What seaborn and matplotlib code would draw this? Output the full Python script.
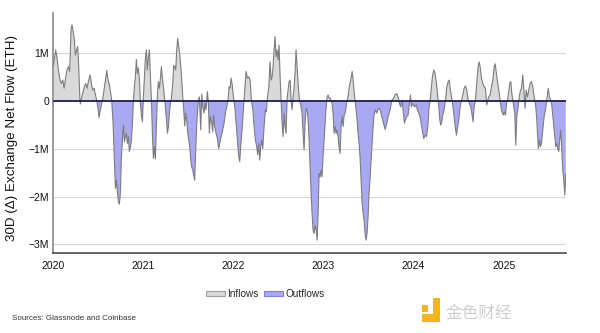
import numpy as np
import pandas as pd
import matplotlib
matplotlib.use("Agg")
import matplotlib.pyplot as plt
from matplotlib import font_manager
from matplotlib.patches import Patch, Rectangle
import seaborn as sns

# 30-day net exchange flow of ETH, in millions, keyed by decimal year
decimal_year = [
    2020.000, 2020.011, 2020.026, 2020.041, 2020.056, 2020.074, 2020.089, 2020.104,
    2020.119, 2020.137, 2020.152, 2020.167, 2020.181, 2020.196, 2020.207, 2020.222,
    2020.233, 2020.244, 2020.259, 2020.270, 2020.281, 2020.293, 2020.300, 2020.315,
    2020.330, 2020.344, 2020.359, 2020.374, 2020.389, 2020.407, 2020.422, 2020.437,
    2020.452, 2020.467, 2020.481, 2020.493, 2020.507, 2020.522, 2020.537, 2020.552,
    2020.567, 2020.581, 2020.593, 2020.607, 2020.622, 2020.637, 2020.648, 2020.663,
    2020.678, 2020.689, 2020.700, 2020.711, 2020.722, 2020.733, 2020.744, 2020.756,
    2020.767, 2020.778, 2020.789, 2020.800, 2020.811, 2020.822, 2020.833, 2020.844,
    2020.856, 2020.867, 2020.878, 2020.889, 2020.900, 2020.911, 2020.922, 2020.933,
    2020.944, 2020.956, 2020.967, 2020.978, 2020.989, 2021.000, 2021.011, 2021.022,
    2021.033, 2021.044, 2021.056, 2021.067, 2021.078, 2021.089, 2021.100, 2021.111,
    2021.122, 2021.133, 2021.144, 2021.156, 2021.167, 2021.178, 2021.189, 2021.200,
    2021.211, 2021.222, 2021.233, 2021.244, 2021.256, 2021.267, 2021.278, 2021.289,
    2021.300, 2021.311, 2021.326, 2021.337, 2021.348, 2021.359, 2021.370, 2021.381,
    2021.393, 2021.404, 2021.415, 2021.426, 2021.437, 2021.448, 2021.459, 2021.470,
    2021.481, 2021.493, 2021.504, 2021.515, 2021.526, 2021.537, 2021.548, 2021.559,
    2021.570, 2021.581, 2021.593,
    2021.611, 2021.622, 2021.637, 2021.648, 2021.659, 2021.674, 2021.685, 2021.696,
    2021.711, 2021.722, 2021.733, 2021.744, 2021.759, 2021.770, 2021.781, 2021.793,
    2021.807, 2021.822, 2021.837, 2021.852, 2021.867, 2021.881, 2021.896, 2021.911,
    2021.926, 2021.941, 2021.952, 2021.963, 2021.974, 2021.985, 2022.000, 2022.015,
    2022.030, 2022.044, 2022.059, 2022.070, 2022.081, 2022.096, 2022.111, 2022.126,
    2022.141, 2022.156, 2022.170, 2022.185, 2022.200, 2022.215, 2022.230, 2022.244,
    2022.259, 2022.270, 2022.281, 2022.293, 2022.304, 2022.315, 2022.326, 2022.341,
    2022.356, 2022.367, 2022.378, 2022.393, 2022.407, 2022.419, 2022.430, 2022.441,
    2022.452, 2022.463, 2022.474, 2022.485, 2022.496, 2022.507, 2022.519, 2022.530,
    2022.541, 2022.552, 2022.563, 2022.574, 2022.585, 2022.596, 2022.607, 2022.619,
    2022.630, 2022.641, 2022.652, 2022.663, 2022.674, 2022.685, 2022.696, 2022.707,
    2022.719, 2022.730, 2022.741, 2022.752, 2022.763, 2022.774, 2022.785, 2022.796,
    2022.807, 2022.819, 2022.830, 2022.841, 2022.852, 2022.863, 2022.874, 2022.885,
    2022.896, 2022.907, 2022.919, 2022.930, 2022.941, 2022.952, 2022.963, 2022.974,
    2022.985, 2022.996, 2023.007, 2023.019, 2023.030, 2023.041, 2023.052, 2023.063,
    2023.074, 2023.085, 2023.096, 2023.107, 2023.119, 2023.130, 2023.141, 2023.152,
    2023.163, 2023.174, 2023.185, 2023.196, 2023.207, 2023.219, 2023.230, 2023.241,
    2023.252, 2023.263, 2023.274, 2023.285, 2023.296, 2023.307, 2023.319, 2023.330,
    2023.341, 2023.352, 2023.363, 2023.374, 2023.385, 2023.396, 2023.407, 2023.419,
    2023.430, 2023.441, 2023.452, 2023.463, 2023.474, 2023.485, 2023.496, 2023.507,
    2023.519, 2023.530, 2023.541, 2023.552, 2023.563, 2023.574, 2023.593, 2023.611,
    2023.630,
    2023.648, 2023.667, 2023.686, 2023.704, 2023.723, 2023.741, 2023.760, 2023.778,
    2023.797, 2023.815, 2023.834, 2023.845, 2023.860, 2023.874, 2023.889, 2023.900,
    2023.911, 2023.926, 2023.941, 2023.956, 2023.967, 2023.978, 2023.989, 2024.000,
    2024.015, 2024.030, 2024.045, 2024.060, 2024.074, 2024.089, 2024.104, 2024.115,
    2024.130, 2024.145, 2024.160, 2024.174, 2024.186, 2024.197, 2024.211, 2024.226,
    2024.241, 2024.256, 2024.271, 2024.282, 2024.293, 2024.304, 2024.315, 2024.326,
    2024.341, 2024.356, 2024.371, 2024.386, 2024.397, 2024.408, 2024.423, 2024.437,
    2024.452, 2024.467, 2024.478, 2024.489, 2024.504, 2024.519, 2024.534, 2024.549,
    2024.563, 2024.578, 2024.593, 2024.608, 2024.623, 2024.637, 2024.652, 2024.663,
    2024.674, 2024.689, 2024.704, 2024.719, 2024.730, 2024.741, 2024.756, 2024.771,
    2024.786, 2024.800, 2024.815, 2024.826, 2024.837, 2024.852, 2024.867, 2024.882,
    2024.897, 2024.908, 2024.919, 2024.934, 2024.949, 2024.963, 2024.978, 2024.989,
    2025.000, 2025.011, 2025.023, 2025.034, 2025.045, 2025.056, 2025.071, 2025.082,
    2025.093, 2025.104, 2025.115, 2025.126, 2025.137, 2025.149, 2025.160, 2025.171,
    2025.186, 2025.200, 2025.215, 2025.230, 2025.241, 2025.252, 2025.267, 2025.282,
    2025.297, 2025.311, 2025.326, 2025.341, 2025.356, 2025.371, 2025.378, 2025.389,
    2025.400, 2025.411, 2025.423, 2025.437, 2025.452, 2025.467, 2025.482, 2025.497,
    2025.511, 2025.526, 2025.537, 2025.549, 2025.560, 2025.571, 2025.582, 2025.593,
    2025.604, 2025.615, 2025.626, 2025.637, 2025.649, 2025.660, 2025.671, 2025.682,
    2025.693,
]

net_flow_m = [
    0.74, 0.88, 1.06, 0.88, 0.64, 0.43, 0.36, 0.43,
    0.26, 0.50, 0.64, 0.71, 0.61, 1.48, 1.58, 1.41,
    1.27, 0.95, 1.06, 1.13, 0.71, 0.08, -0.07, 0.08,
    0.19, 0.29, 0.36, 0.26, 0.40, 0.54, 0.36, 0.22,
    0.26, 0.12, 0.01, -0.13, -0.35, -0.19, -0.06, 0.08,
    0.29, 0.47, 0.63, 0.43, 0.33, 0.15, 0.00, -0.47,
    -1.24, -1.83, -1.66, -1.90, -2.11, -2.16, -1.93, -1.17,
    -0.82, -0.51, -0.86, -0.75, -0.68, -0.89, -0.75, -1.06,
    -0.96, -0.82, -0.47, 0.01, 0.29, 0.50, 0.86, 0.57,
    0.68, 0.43, -0.06, -0.30, -0.44, 0.08, 0.50, 0.88,
    1.06, 0.64, 0.92, 1.06, 0.50, 0.01, -0.68, -1.20,
    -0.96, -1.22, -0.54, 0.15, 0.40, 0.26, 0.47, 0.71,
    0.47, 0.29, 0.08, -0.13, -0.40, -0.68, -0.54, -0.26,
    -0.06, 0.05, 0.36, 0.74, 0.71, 0.64, 1.06, 1.30,
    1.13, 0.95, 0.71, 0.43, 0.08, -0.19, -0.53, -0.26,
    -0.40, -0.68, -0.82, -0.96, -1.24, -1.38, -1.45, -1.55,
    -1.66, -1.03, -0.47,
    0.01, 0.08, -0.61, 0.14, -0.13, -0.26, -0.06, -0.19,
    0.19, -0.06, -0.68, -0.33, -0.47, -0.65, -0.30, -0.54,
    -0.68, -0.79, -1.00, -0.86, -0.72, -0.61, -0.47, -0.26,
    -0.13, 0.01, 0.29, 0.26, 0.47, 0.36, 0.08, -0.13,
    -0.47, -0.82, -1.17, -1.27, -0.96, -0.61, -0.19, 0.22,
    0.61, 0.47, 0.50, 0.43, 0.01, -0.19, -0.54, -0.82,
    -0.96, -1.13, -0.89, -1.24, -0.96, -0.82, -1.00, -0.54,
    -0.19, -0.23, 0.08, 0.26, 0.81, 0.43, 0.50, 0.71,
    1.06, 1.34, 0.92, 1.06, 0.85, 1.16, 0.50, 0.01,
    -0.47, -0.75, -0.26, -0.54, -0.68, 0.01, 0.22, 0.40,
    0.43, 0.01, -0.19, 0.08, 0.26, 0.57, 1.06, 0.71,
    0.36, 0.08, -0.02, -0.13, -0.26, -0.68, -1.03, -0.47,
    -0.16, -0.19, -0.40, -0.82, -1.38, -1.93, -2.35, -2.70,
    -2.77, -2.60, -2.70, -2.91, -2.35, -1.52, -1.59, -1.45,
    -1.59, -1.17, -0.82, -0.47, -0.13, 0.08, 0.12, 0.05,
    0.06, 0.01, -0.06, -0.26, -0.68, -0.54, -0.68, -0.61,
    -0.75, -0.96, -1.10, -0.54, -0.33, -0.54, -0.30, -0.26,
    -0.13, 0.01, 0.08, 0.26, 0.36, 0.47, 0.61, 0.43,
    0.19, 0.01, -0.19, -0.40, -0.68, -0.89, -1.17, -1.66,
    -2.14, -2.35, -2.49, -2.77, -2.91, -2.77, -2.42, -1.93,
    -1.59, -1.24, -0.89, -0.54, -0.30, -0.19, -0.26, -0.16,
    -0.19,
    -0.33, -0.47, -0.60, -0.47, -0.30, -0.19, 0.01, 0.05,
    0.12, 0.15, 0.05, -0.06, -0.13, 0.01, -0.26, -0.47,
    -0.40, -0.33, -0.30, -0.06, 0.12, -0.13, -0.06, -0.09,
    -0.13, -0.09, -0.19, -0.26, -0.33, -0.51, -0.68, -0.79,
    -0.72, -0.75, -0.54, -0.13, 0.01, 0.22, 0.50, 0.64,
    0.57, 0.36, 0.08, -0.13, -0.40, -0.51, -0.44, -0.30,
    -0.19, 0.01, 0.29, 0.40, 0.43, 0.26, 0.08, -0.09,
    -0.33, -0.58, -0.72, -0.58, -0.40, -0.13, 0.01, 0.12,
    0.26, 0.31, 0.22, 0.01, -0.06, -0.13, -0.30, -0.44,
    -0.13, 0.01, 0.36, 0.71, 0.81, 0.71, 0.47, 0.36,
    0.29, 0.26, -0.09, 0.01, 0.08, 0.12, 0.29, 0.43,
    0.71, 0.77, 0.61, 0.40, 0.22, 0.01, -0.19, -0.26,
    -0.30, -0.23, -0.30, -0.06, 0.01, 0.15, 0.36, 0.40,
    0.15, 0.01, -0.13, -0.26, -0.93, -0.33, -0.19, 0.01,
    0.19, 0.26, 0.54, 0.15, -0.16, 0.22, 0.08, 0.22,
    0.36, 0.40, 0.29, 0.08, -0.06, -0.40, -0.68, -1.00,
    -0.82, -0.96, -0.89, -0.61, -0.33, -0.19, 0.01, 0.26,
    0.08, 0.01, -0.09, -0.33, -0.54, -0.75, -0.96, -0.89,
    -1.00, -1.06, -0.82, -0.61, -1.03, -1.45, -1.66, -1.97,
    -1.52,
]

year_ticks = [2020, 2021, 2022, 2023, 2024, 2025]
y_ticks = [1, 0, -1, -2, -3]
y_tick_labels = ["1M", "0", "\u22121M", "\u22122M", "\u22123M"]
y_title = "30D (\u0394) Exchange Net Flow (ETH)"
legend_labels = ["Inflows", "Outflows"]
source_note = "Sources: Glassnode and Coinbase"
brand_mark = "金色财经"

# colours
inflow_fill = "#d9d9d9"
outflow_fill = "#a9a9f3"
trace_color = "#7d7d7d"
zero_color = "#1c1f4d"

sns.set_theme(style="white")
available = {f.name for f in font_manager.fontManager.ttflist}
base_font = "Liberation Sans Narrow" if "Liberation Sans Narrow" in available else "Liberation Sans"
plt.rcParams["font.family"] = [base_font, "DejaVu Sans"]

x = np.asarray(decimal_year)
dates = pd.Timestamp("2020-01-01") + pd.to_timedelta((x - 2020.0) * 365.25, unit="D")
df = pd.DataFrame({"date": dates, "flow": net_flow_m})

fig = plt.figure(figsize=(6.0, 3.33), dpi=100)
ax = fig.add_axes([0.089, 0.240, 0.854, 0.721])

flow = df["flow"].to_numpy()
ax.fill_between(df["date"], flow, 0, where=flow >= 0, interpolate=True,
                color=inflow_fill, linewidth=0, zorder=1)
ax.fill_between(df["date"], flow, 0, where=flow <= 0, interpolate=True,
                color=outflow_fill, linewidth=0, zorder=1)
sns.lineplot(data=df, x="date", y="flow", ax=ax, color=trace_color,
             linewidth=0.8, zorder=3)
ax.axhline(0, color=zero_color, linewidth=1.3, zorder=4)

ax.set_xlim(pd.Timestamp("2020-01-01"), df["date"].iloc[-1])
ax.set_ylim(-3.18, 1.83)

ax.set_yticks(y_ticks)
ax.set_yticklabels(y_tick_labels)
ax.set_xticks([pd.Timestamp(f"{y}-01-01") for y in year_ticks])
ax.set_xticklabels([str(y) for y in year_ticks])
ax.tick_params(axis="both", length=0, labelsize=7.5, colors="#111111")
ax.tick_params(axis="y", pad=3)
ax.tick_params(axis="x", pad=6)

ax.yaxis.grid(True, color="#d6d6d6", linewidth=0.8)
ax.xaxis.grid(False)
ax.set_axisbelow(True)
ax.set_xlabel("")
ax.set_ylabel("")

for side in ("top", "right"):
    ax.spines[side].set_visible(False)
ax.spines["left"].set_color("#9a9a9a")
ax.spines["left"].set_linewidth(1.4)
ax.spines["bottom"].set_color("#4a4a4a")
ax.spines["bottom"].set_linewidth(1.2)

fig.text(12 / 600, 1 - 138 / 333, y_title, rotation=90, ha="center", va="center",
         fontsize=9.6, color="#111111")

handles = [
    Patch(facecolor=inflow_fill, edgecolor="#a0a0a0", linewidth=0.8),
    Patch(facecolor=outflow_fill, edgecolor="#8080e0", linewidth=0.8),
]
fig.legend(handles, legend_labels, loc="center", bbox_to_anchor=(0.442, 0.117),
           ncol=2, frameon=False, fontsize=7.2, handlelength=1.85, handleheight=0.35,
           handletextpad=0.25, columnspacing=0.6)

fig.text(12 / 600, 1 - 318 / 333, source_note, ha="left", va="center",
         fontsize=5.8, color="#333333")

# brand logo blocks and wordmark
logo_color = "#f3b519"
for (x0, y0, w, h) in [(422, 305, 6, 7), (433, 298, 7, 24), (422, 314, 18, 8)]:
    fig.add_artist(Rectangle((x0 / 600, 1 - (y0 + h) / 333), w / 600, h / 333,
                             transform=fig.transFigure, color=logo_color, linewidth=0))
fig.text(446 / 600, 1 - 313 / 333, brand_mark, ha="left", va="center", fontsize=12,
         color="#cfcfcf", family=["Noto Sans CJK SC", "DejaVu Sans"])

fig.savefig("out.png", dpi=100, facecolor="white")
